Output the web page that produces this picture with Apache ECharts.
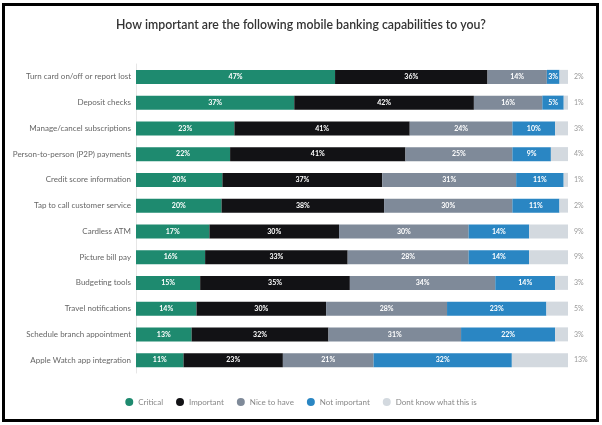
<!DOCTYPE html>
<html lang="en">
<head>
    <meta charset="UTF-8">
    <title>Mobile banking capabilities</title>
    <style>
        html, body { margin: 0; padding: 0; background: #fff; }
        #chart { width: 602px; height: 425px; }
    </style>
</head>
<body>
    <div id="chart"></div>
    <script src="https://cdn.jsdelivr.net/npm/echarts@6/dist/echarts.min.js"></script>
    <script>
        // survey answers, percent per row (rows may not sum to exactly 100)
        var categories = [
            'Turn card on/off or report lost',
            'Deposit checks',
            'Manage/cancel subscriptions',
            'Person-to-person (P2P) payments',
            'Credit score information',
            'Tap to call customer service',
            'Cardless ATM',
            'Picture bill pay',
            'Budgeting tools',
            'Travel notifications',
            'Schedule branch appointment',
            'Apple Watch app integration'
        ];
        var critical     = [47, 37, 23, 22, 20, 20, 17, 16, 15, 14, 13, 11];
        var important    = [36, 42, 41, 41, 37, 38, 30, 33, 35, 30, 32, 23];
        var niceToHave   = [14, 16, 24, 25, 31, 30, 30, 28, 34, 28, 31, 21];
        var notImportant = [3, 5, 10, 9, 11, 11, 14, 14, 14, 23, 22, 32];
        var dontKnow     = [2, 1, 3, 4, 1, 2, 9, 9, 3, 5, 3, 13];

        var seriesNames = ['Critical', 'Important', 'Nice to have', 'Not important', 'Dont know what this is'];
        var seriesData = [critical, important, niceToHave, notImportant, dontKnow];
        var colors = ['#1e8a6f', '#121215', '#7f8a99', '#2a86c3', '#d3d9df'];

        // bars are drawn as share of each row's total, labels keep the survey numbers
        var rowTotals = categories.map(function (c, i) {
            return seriesData.reduce(function (s, arr) { return s + arr[i]; }, 0);
        });

        var chart = echarts.init(document.getElementById('chart'));
        var font = 'Lato, "Open Sans", sans-serif';

        var series = seriesData.map(function (arr, k) {
            return {
                name: seriesNames[k],
                type: 'bar',
                stack: 'all',
                barWidth: 14,
                itemStyle: { color: colors[k] },
                label: {
                    show: k < 4,
                    position: 'inside',
                    color: '#fff',
                    fontSize: 7,
                    fontWeight: 'bold',
                    fontFamily: font,
                    formatter: function (p) { return arr[p.dataIndex] + '%'; }
                },
                data: arr.map(function (v, i) { return v / rowTotals[i] * 100; })
            };
        });

        var option = {
            animation: false,
            textStyle: { fontFamily: font },
            title: {
                text: 'How important are the following mobile banking capabilities to you?',
                left: 'center',
                top: 14,
                textStyle: { fontSize: 12.3, fontWeight: 600, color: '#333', fontFamily: font }
            },
            legend: {
                bottom: 14,
                left: 'center',
                icon: 'circle',
                itemWidth: 8,
                itemHeight: 8,
                itemGap: 13,
                textStyle: { fontSize: 8, color: '#888', fontFamily: font },
                data: seriesNames
            },
            grid: { left: 136, right: 34, top: 64, bottom: 52 },
            xAxis: {
                type: 'value',
                min: 0,
                max: 100,
                show: false
            },
            yAxis: [{
                type: 'category',
                data: categories,
                inverse: true,
                axisTick: { show: false },
                axisLine: { show: true, lineStyle: { color: '#e6e6e6' } },
                axisLabel: { color: '#666', fontSize: 8, margin: 5, fontFamily: font }
            }, {
                type: 'category',
                data: categories,
                inverse: true,
                position: 'right',
                axisTick: { show: false },
                axisLine: { show: false },
                axisLabel: {
                    color: '#999',
                    fontSize: 7,
                    margin: 6,
                    fontFamily: font,
                    formatter: function (v, i) { return dontKnow[i] + '%'; }
                }
            }],
            graphic: [{
                type: 'rect',
                shape: { x: 3.5, y: 4.5, width: 594, height: 416 },
                style: { fill: 'none', stroke: '#000', lineWidth: 3 }
            }],
            series: series
        };
        chart.setOption(option);
    </script>
</body>
</html>
